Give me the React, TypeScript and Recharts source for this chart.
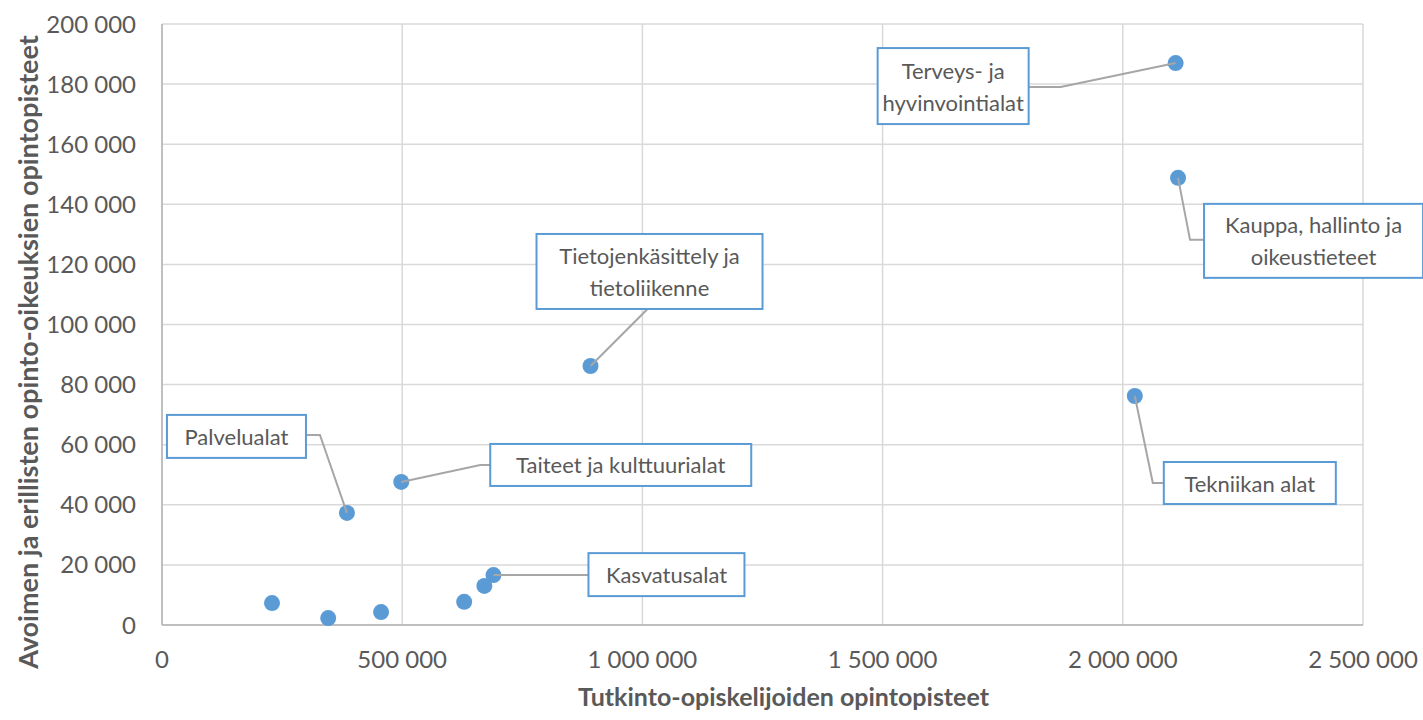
import React from 'react';
import { ScatterChart, Scatter, XAxis, YAxis, CartesianGrid } from 'recharts';

// opintopisteet per koulutusala
const fieldNames = [
  'Luonnontieteet',
  'Maa- ja metsätalousalat',
  'Humanistiset alat',
  'Yhteiskuntatieteet',
  'Muut',
  'Kasvatusalat',
  'Palvelualat',
  'Taiteet ja kulttuurialat',
  'Tietojenkäsittely ja tietoliikenne',
  'Tekniikan alat',
  'Terveys- ja hyvinvointialat',
  'Kauppa, hallinto ja oikeustieteet',
];
const degreeCredits = [229000, 346000, 456000, 629000, 671000, 690000, 385000, 498000, 892000, 2025000, 2110000, 2115000];
const openCredits = [7300, 2300, 4300, 7700, 13000, 16600, 37300, 47600, 86200, 76200, 187000, 148800];
const labelLines: string[][] = [
  [], [], [], [], [],
  ['Kasvatusalat'],
  ['Palvelualat'],
  ['Taiteet ja kulttuurialat'],
  ['Tietojenkäsittely ja', 'tietoliikenne'],
  ['Tekniikan alat'],
  ['Terveys- ja', 'hyvinvointialat'],
  ['Kauppa, hallinto ja', 'oikeustieteet'],
];

const xTicks = [0, 500000, 1000000, 1500000, 2000000, 2500000];
const yTicks = [0, 20000, 40000, 60000, 80000, 100000, 120000, 140000, 160000, 180000, 200000];

// label box placement relative to the point (px): box top-left, size, elbow and attach points
const labelLayout: Record<string, { bx: number; by: number; w: number; h: number; ex: number; ey: number; ax: number; ay: number }> = {
  'Kasvatusalat': { bx: 95, by: -22, w: 156, h: 43, ex: 95, ey: 0, ax: 95, ay: 0 },
  'Palvelualat': { bx: -180, by: -98, w: 139, h: 43, ex: -27, ey: -78, ax: -41, ay: -78 },
  'Taiteet ja kulttuurialat': { bx: 89, by: -38, w: 261, h: 42, ex: 79, ey: -17, ax: 89, ay: -17 },
  'Tietojenkäsittely ja tietoliikenne': { bx: -54, by: -132, w: 226, h: 75, ex: 57, ey: -57, ax: 57, ay: -57 },
  'Tekniikan alat': { bx: 29, by: 66, w: 172, h: 42, ex: 18, ey: 87, ax: 29, ay: 87 },
  'Terveys- ja hyvinvointialat': { bx: -298, by: -15, w: 151, h: 76, ex: -115, ey: 24, ax: -147, ay: 24 },
  'Kauppa, hallinto ja oikeustieteet': { bx: 26, by: 26, w: 219, h: 74, ex: 12, ey: 62, ax: 26, ay: 62 },
};

const data = fieldNames.map((name, i) => ({
  name,
  x: degreeCredits[i],
  y: openCredits[i],
  lines: labelLines[i],
}));

const fmt = (v: number) => String(v).replace(/\B(?=(\d{3})+(?!\d))/g, ' ');

const FONT = 'Lato, "Open Sans", sans-serif';
const TEXT = '#595959';
const BLUE = '#5b9bd5';

const Dot = (props: any) => {
  const { cx, cy } = props;
  return <circle cx={cx} cy={cy} r={8} fill={BLUE} />;
};

const Callout = (props: any) => {
  const { cx, cy, payload } = props;
  const lay = labelLayout[payload.name];
  if (!lay || !payload.lines.length) return <g />;
  const bx = cx + lay.bx;
  const by = cy + lay.by;
  const n = payload.lines.length;
  const lh = 32;
  const startY = by + lay.h / 2 - ((n - 1) * lh) / 2;
  return (
    <g>
      <polyline
        points={`${cx},${cy} ${cx + lay.ex},${cy + lay.ey} ${cx + lay.ax},${cy + lay.ay}`}
        fill="none"
        stroke="#a6a6a6"
        strokeWidth={2}
      />
      <rect x={bx} y={by} width={lay.w} height={lay.h} fill="#fff" stroke={BLUE} strokeWidth={2} />
      {payload.lines.map((t: string, k: number) => (
        <text
          key={k}
          x={bx + lay.w / 2}
          y={startY + k * lh}
          textAnchor="middle"
          dominantBaseline="central"
          fontFamily={FONT}
          fontSize={22}
          fill={TEXT}
        >
          {t}
        </text>
      ))}
    </g>
  );
};

const YTitle = () => (
  <text
    x={27}
    y={352}
    transform="rotate(-90 27 352)"
    textAnchor="middle"
    dominantBaseline="central"
    fontFamily={FONT}
    fontSize={27}
    fontWeight="bold"
    fill={TEXT}
  >
    Avoimen ja erillisten opinto-oikeuksien opintopisteet
  </text>
);

export default function App() {
  return (
    <div style={{ position: 'absolute', left: 0, top: 0, background: '#fff' }}>
      <ScatterChart width={1423} height={720} margin={{ top: 24, right: 60, bottom: 0, left: 0 }}>
        <CartesianGrid stroke="#d9d9d9" strokeWidth={1.5} />
        <XAxis
          type="number"
          dataKey="x"
          domain={[0, 2500000]}
          ticks={xTicks}
          tickFormatter={fmt}
          height={95}
          axisLine={{ stroke: '#bfbfbf', strokeWidth: 2 }}
          tickLine={false}
          tickMargin={20}
          tick={{ fill: TEXT, fontSize: 24, fontFamily: FONT }}
          label={{
            value: 'Tutkinto-opiskelijoiden opintopisteet',
            position: 'insideBottom',
            offset: 14,
            dx: 21,
            fill: TEXT,
            fontSize: 25,
            fontWeight: 'bold',
            fontFamily: FONT,
          }}
        />
        <YAxis
          type="number"
          dataKey="y"
          domain={[0, 200000]}
          ticks={yTicks}
          tickFormatter={fmt}
          width={162}
          axisLine={{ stroke: '#bfbfbf', strokeWidth: 2 }}
          tickLine={false}
          tickMargin={20}
          tick={{ fill: TEXT, fontSize: 24, fontFamily: FONT }}
          label={<YTitle />}
        />
        <Scatter data={data} shape={<Dot />} isAnimationActive={false} />
        <Scatter data={data} shape={<Callout />} isAnimationActive={false} />
      </ScatterChart>
    </div>
  );
}
